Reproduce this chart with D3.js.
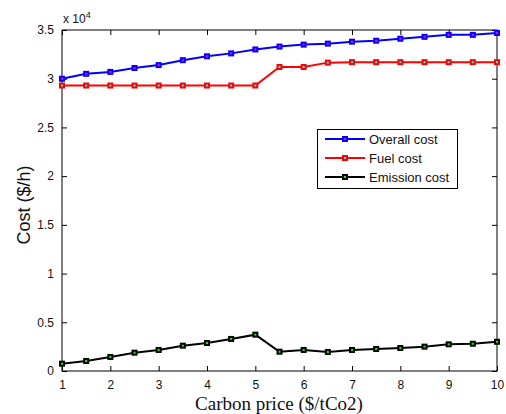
<!DOCTYPE html>
<html><head><meta charset="utf-8">
<script src="https://cdn.jsdelivr.net/npm/d3@7"></script>
<style>body{margin:0;background:#fff}</style>
</head><body>
<svg id="c" width="506" height="414"></svg>
<script>
const carbonPrice = [1,1.5,2,2.5,3,3.5,4,4.5,5,5.5,6,6.5,7,7.5,8,8.5,9,9.5,10];
const overallCost = [30000,30500,30700,31100,31400,31900,32300,32600,33000,33300,33500,33600,33800,33900,34100,34300,34500,34500,34700];
const fuelCost    = [29300,29300,29300,29300,29300,29300,29300,29300,29300,31200,31200,31650,31700,31700,31700,31700,31700,31700,31700];
const emissionCost= [750,1030,1440,1880,2160,2600,2870,3290,3730,1980,2160,1950,2160,2260,2360,2500,2740,2800,3000];
const xTicks = [1,2,3,4,5,6,7,8,9,10];
const yTicks = [0,5000,10000,15000,20000,25000,30000,35000];
const seriesNames = ["Overall cost","Fuel cost","Emission cost"];
const seriesColors = ["#0000ff","#ff0000","#000000"];
const markerFills = ["#ff00ff","#00ffff","#00ff00"];

const svg = d3.select("#c");
const L=62,R=497,T=30,B=371;
const x = d3.scaleLinear().domain([1,10]).range([L,R]);
const y = d3.scaleLinear().domain([0,35000]).range([B,T]);
const tickFont = "Liberation Sans, Arial, sans-serif";

// axes
const gx = svg.append("g").attr("transform",`translate(0,${B})`)
  .call(d3.axisBottom(x).tickValues(xTicks).tickSizeInner(-5).tickSizeOuter(0).tickPadding(9).tickFormat(d3.format("d")));
const gxt = svg.append("g").attr("transform",`translate(0,${T})`)
  .call(d3.axisTop(x).tickValues(xTicks).tickSizeInner(-5).tickSizeOuter(0).tickFormat(""));
const gy = svg.append("g").attr("transform",`translate(${L},0)`)
  .call(d3.axisLeft(y).tickValues(yTicks).tickSizeInner(-5).tickSizeOuter(0).tickPadding(8).tickFormat(d=>d/10000));
const gyr = svg.append("g").attr("transform",`translate(${R},0)`)
  .call(d3.axisRight(y).tickValues(yTicks).tickSizeInner(-5).tickSizeOuter(0).tickFormat(""));
[gx,gxt,gy,gyr].forEach(g=>{
  g.select(".domain").remove();
  g.selectAll("line").attr("stroke","#000");
  g.selectAll("text").attr("fill","#111").style("font-family",tickFont).style("font-size","12px");
});
svg.append("rect").attr("x",L).attr("y",T).attr("width",R-L).attr("height",B-T)
  .attr("fill","none").attr("stroke","#000").attr("stroke-width",1);

// exponent
const ex = svg.append("text").attr("x",L+1).attr("y",T-7).style("font-family",tickFont).style("font-size","12px").attr("fill","#111");
ex.append("tspan").text("x 10");
ex.append("tspan").attr("dy",-5).style("font-size","9px").text("4");

// titles
svg.append("text").attr("x",279).attr("y",410).attr("text-anchor","middle")
  .style("font-family","Liberation Serif, Times New Roman, serif").style("font-size","19px").attr("fill","#111").text("Carbon price ($/tCo2)");
svg.append("text").attr("transform",`translate(30,205) rotate(-90)`).attr("text-anchor","middle")
  .style("font-family",tickFont).style("font-size","18px").attr("fill","#111").text("Cost ($/h)");

// series
const allSeries = [overallCost,fuelCost,emissionCost];
const line = d3.line().x((d,i)=>x(carbonPrice[i])).y(d=>y(d));
allSeries.forEach((s,k)=>{
  svg.append("path").datum(s).attr("d",line).attr("fill","none").attr("stroke",seriesColors[k]).attr("stroke-width",2);
  svg.selectAll(null).data(s).enter().append("rect")
    .attr("x",(d,i)=>x(carbonPrice[i])-2).attr("y",d=>y(d)-2).attr("width",4).attr("height",4)
    .attr("fill",markerFills[k]).attr("stroke",seriesColors[k]).attr("stroke-width",2);
});

// legend
const lg = svg.append("g");
lg.append("rect").attr("x",317.5).attr("y",129.5).attr("width",140).attr("height",59).attr("fill","#fff").attr("stroke","#000");
seriesNames.forEach((n,k)=>{
  const yy = 139+k*19;
  lg.append("line").attr("x1",325).attr("x2",365).attr("y1",yy).attr("y2",yy).attr("stroke",seriesColors[k]).attr("stroke-width",2);
  lg.append("rect").attr("x",343).attr("y",yy-2).attr("width",4).attr("height",4).attr("fill",markerFills[k]).attr("stroke",seriesColors[k]).attr("stroke-width",2);
  lg.append("text").attr("x",369).attr("y",yy+4.5).style("font-family",tickFont).style("font-size","13px").attr("fill","#111").text(n);
});
</script>
</body></html>
